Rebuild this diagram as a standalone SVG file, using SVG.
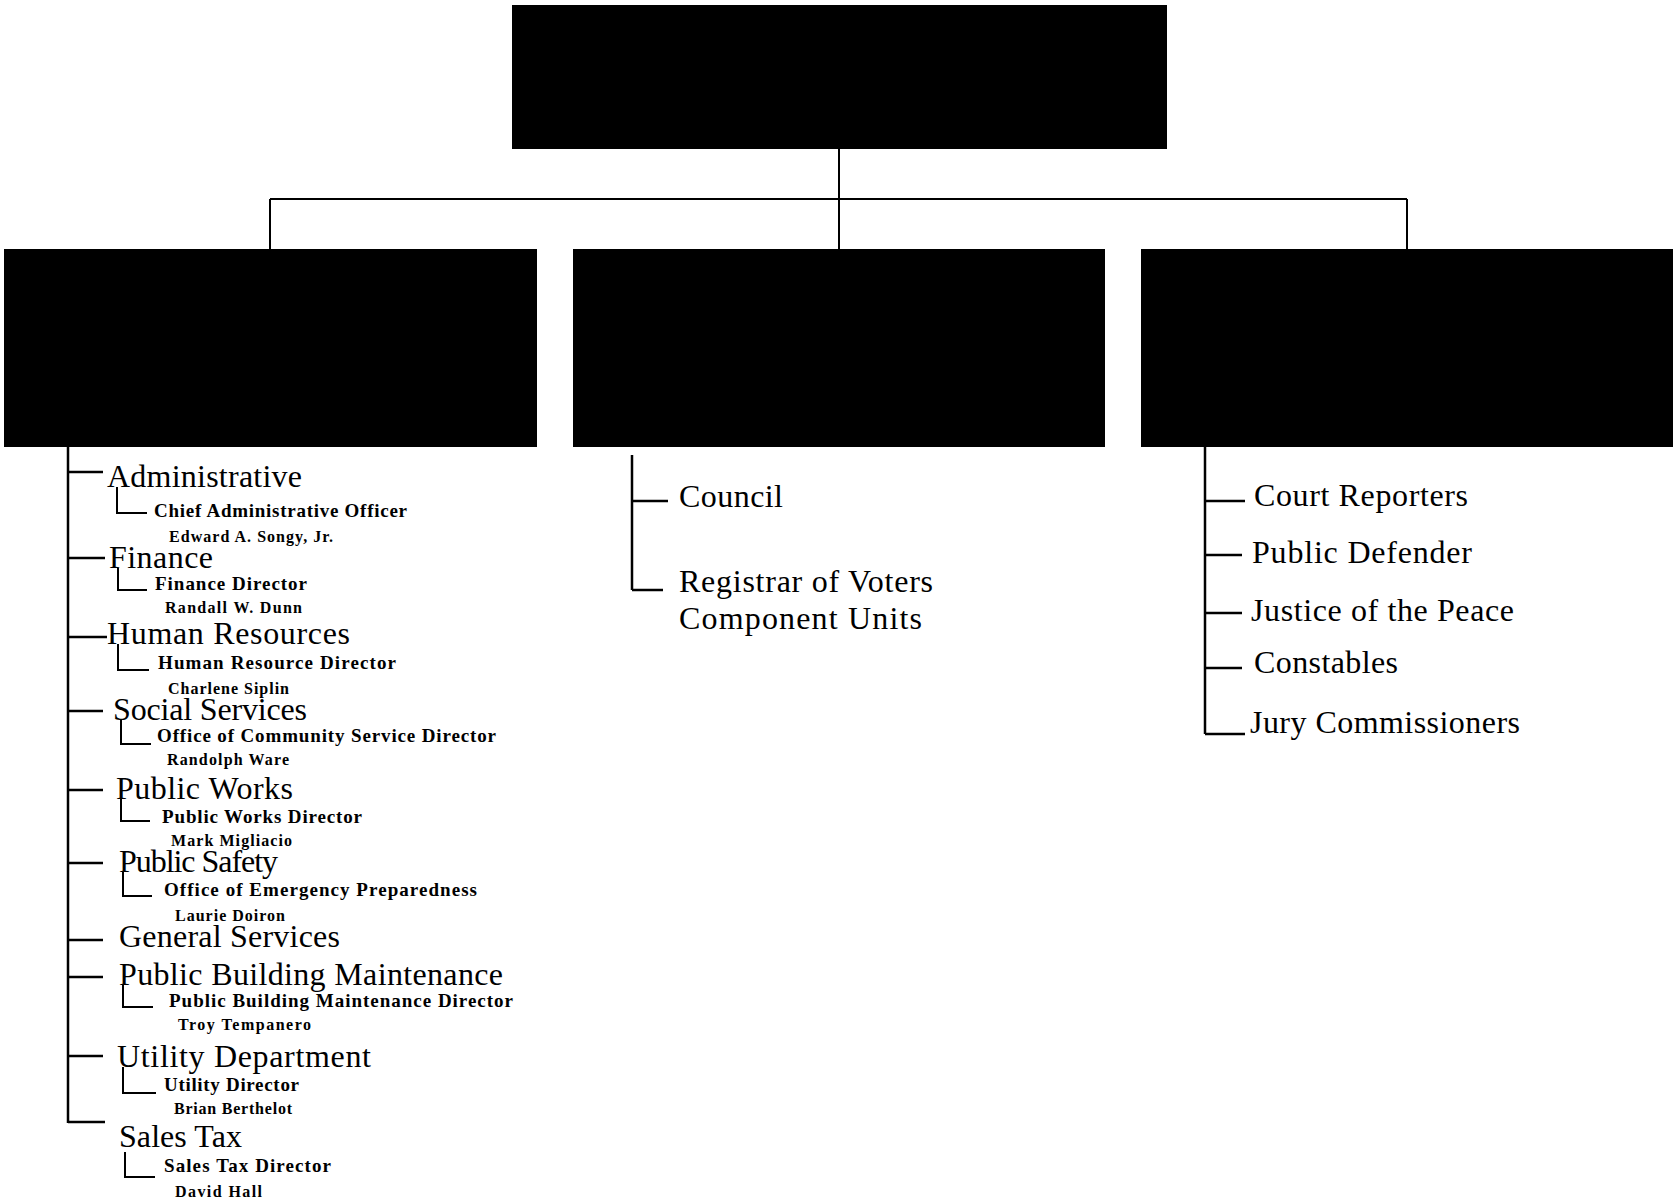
<svg xmlns="http://www.w3.org/2000/svg" width="1673" height="1201" viewBox="0 0 1673 1201">
<style>
.box{fill:#000}
.ln{stroke:#000;stroke-width:2;fill:none}
.tk{stroke:#000;stroke-width:2.5;fill:none}
text{font-family:"Liberation Serif","Times New Roman",serif;fill:#000}
.big{font-size:32px}
.sub{font-size:19px;font-weight:bold}
.nm{font-size:16px;font-weight:bold}
</style>
<rect width="1673" height="1201" fill="#fff"/>
<g id="connectors">
<path class="ln" d="M839 149 V249 M270 199 H1407 M270 199 V249 M1407 199 V249"/>
<path class="tk" d="M68 447 V1123"/>
<path class="tk" d="M68 472 H103 M68 558 H105 M68 637 H107 M68 711 H103 M68 790 H103 M68 863 H103 M68 940 H103 M68 977 H103 M68 1056 H103 M68 1122 H105"/>
<path class="ln" d="M117 487 V513 H147 M118 568 V590 H147 M118 644 V670 H149 M121 720 V744 H151 M121 799 V821 H150 M123 872 V896 H152 M123 985 V1007 H153 M123 1067 V1093 H156 M125 1152 V1177 H155"/>
<path class="tk" d="M632 455 V590 M632 501 H668 M632 590 H663"/>
<path class="tk" d="M1205 447 V734 M1205 501 H1245 M1205 555 H1242 M1205 613 H1242 M1205 668 H1242 M1205 734 H1245"/>
</g>
<g id="top"><rect class="box" x="512" y="5" width="655" height="144"/></g>
<g id="left"><rect class="box" x="4" y="249" width="533" height="198"/></g>
<g id="middle"><rect class="box" x="573" y="249" width="532" height="198"/></g>
<g id="right"><rect class="box" x="1141" y="249" width="532" height="198"/></g>
<g id="left-list">
<text class="big" x="107" y="487" textLength="195">Administrative</text>
<text class="sub" x="154" y="517" textLength="253">Chief Administrative Officer</text>
<text class="nm" x="169" y="542" textLength="164">Edward A. Songy, Jr.</text>
<text class="big" x="109" y="568" textLength="104">Finance</text>
<text class="sub" x="155" y="590" textLength="152">Finance Director</text>
<text class="nm" x="165" y="613" textLength="137">Randall W. Dunn</text>
<text class="big" x="107" y="644" textLength="243">Human Resources</text>
<text class="sub" x="158" y="669" textLength="238">Human Resource Director</text>
<text class="nm" x="168" y="694" textLength="121">Charlene Siplin</text>
<text class="big" x="113" y="720" textLength="194">Social Services</text>
<text class="sub" x="157" y="742" textLength="339">Office of Community Service Director</text>
<text class="nm" x="167" y="765" textLength="122">Randolph Ware</text>
<text class="big" x="116" y="799" textLength="177">Public Works</text>
<text class="sub" x="162" y="823" textLength="200">Public Works Director</text>
<text class="nm" x="171" y="846" textLength="121">Mark Migliacio</text>
<text class="big" x="119" y="872" textLength="159">Public Safety</text>
<text class="sub" x="164" y="896" textLength="313">Office of Emergency Preparedness</text>
<text class="nm" x="175" y="921" textLength="110">Laurie Doiron</text>
<text class="big" x="119" y="947" textLength="221">General Services</text>
<text class="big" x="119" y="985" textLength="384">Public Building Maintenance</text>
<text class="sub" x="169" y="1007" textLength="344">Public Building Maintenance Director</text>
<text class="nm" x="178" y="1030" textLength="133">Troy Tempanero</text>
<text class="big" x="117" y="1067" textLength="254">Utility Department</text>
<text class="sub" x="164" y="1091" textLength="135">Utility Director</text>
<text class="nm" x="174" y="1114" textLength="118">Brian Berthelot</text>
<text class="big" x="119" y="1147" textLength="123">Sales Tax</text>
<text class="sub" x="164" y="1172" textLength="167">Sales Tax Director</text>
<text class="nm" x="175" y="1197" textLength="87">David Hall</text>
</g>
<g id="middle-list">
<text class="big" x="679" y="507" textLength="104">Council</text>
<text class="big" x="679" y="592" textLength="254">Registrar of Voters</text>
<text class="big" x="679" y="629" textLength="243">Component Units</text>
</g>
<g id="right-list">
<text class="big" x="1254" y="506" textLength="214">Court Reporters</text>
<text class="big" x="1252" y="563" textLength="220">Public Defender</text>
<text class="big" x="1251" y="621" textLength="263">Justice of the Peace</text>
<text class="big" x="1254" y="673" textLength="144">Constables</text>
<text class="big" x="1250" y="733" textLength="270">Jury Commissioners</text>
</g>
</svg>
